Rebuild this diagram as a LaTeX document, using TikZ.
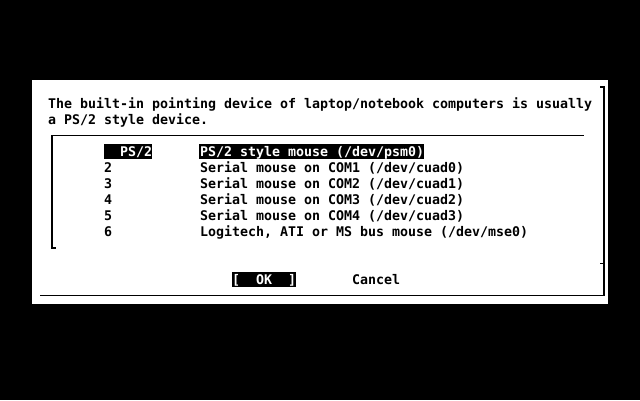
\documentclass[tikz,border=0pt]{standalone}
\usepackage{fontspec}
\newfontfamily\vgafont{DejaVu Sans Mono}
\newcommand\ecran{\vgafont\bfseries\fontsize{13.29pt}{16pt}\selectfont}
\begin{document}
\begin{tikzpicture}[x=1pt,y=-1pt,
	txt/.style={anchor=base west,inner sep=0pt,font=\ecran},
	sel/.style={txt,text=white},
	trait/.style={line width=1pt},
	montant/.style={line width=2pt}]
%					Fond de l'écran :
					\fill[black] (0,0) rectangle (640,400);
%					Boîte de dialogue :
					\fill[white] (32,80) rectangle (608,304);
					\draw[montant] (600,87) -- (604,87) -- (604,296);
					\draw[trait] (40,295.5) -- (605,295.5);
					\draw[trait] (600,263.5) -- (604,263.5);
%					Message :
					\node[txt] (msga) at (48,108) {The built-in pointing device of laptop/notebook computers is usually};
					\node[txt] (msgb) at (48,124) {a PS/2 style device.};
%					Cadre de la liste :
					\draw[trait] (52,135.5) -- (584,135.5);
					\draw[montant] (52,135) -- (52,248) -- (56,248);
%					Ligne choisie :
					\fill[black] (104,144) rectangle (152,159);
					\fill[black] (199,144) rectangle (424,159);
					\node[sel] (tagps) at (120,156) {PS/2};
					\node[sel] (itemps) at (200,156) {PS/2 style mouse (/dev/psm0)};
%					Autres lignes :
					\node[txt] (tagb) at (104,172) {2};
					\node[txt] (itemb) at (200,172) {Serial mouse on COM1 (/dev/cuad0)};
					\node[txt] (tagc) at (104,188) {3};
					\node[txt] (itemc) at (200,188) {Serial mouse on COM2 (/dev/cuad1)};
					\node[txt] (tagd) at (104,204) {4};
					\node[txt] (itemd) at (200,204) {Serial mouse on COM3 (/dev/cuad2)};
					\node[txt] (tage) at (104,220) {5};
					\node[txt] (iteme) at (200,220) {Serial mouse on COM4 (/dev/cuad3)};
					\node[txt] (tagf) at (104,236) {6};
					\node[txt] (itemf) at (200,236) {Logitech, ATI or MS bus mouse (/dev/mse0)};
%					Boutons :
					\fill[black] (232,272) rectangle (296,287);
					\node[sel] (ok) at (232,284) {[\ \ OK\ \ ]};
					\node[txt] (cancel) at (352,284) {Cancel};
				\end{tikzpicture}
\end{document}
